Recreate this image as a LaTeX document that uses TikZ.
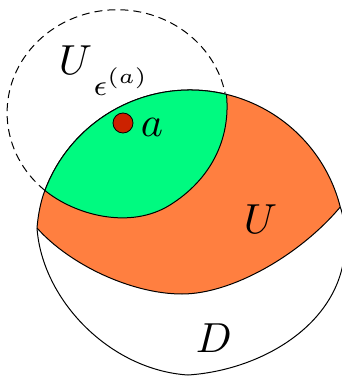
\documentclass[tikz,border=0pt]{standalone}
\usepackage{amsmath,amssymb}
\usepackage{tikz}
\usepackage{xcolor}
\usetikzlibrary{calc}
\definecolor{SetGreen}{HTML}{00FA80}
\definecolor{SetOrange}{HTML}{FF7F40}
\definecolor{PointRed}{HTML}{CC2200}
\tikzset{
    % Region outline
    edgeline/.style={
        draw=black,
        line width=1pt,
        line join=round
    },
    % Boundary of the ball
    ballline/.style={
        draw=black,
        line width=1pt,
        dash pattern=on 8pt off 5pt
    },
    % Orange set
    opensetfill/.style={
        fill=SetOrange
    },
    % Green set
    ballfill/.style={
        fill=SetGreen
    },
    % The point a
    pointdot/.style={
        circle,
        draw=black,
        line width=0.8pt,
        fill=PointRed,
        minimum size=20pt,
        inner sep=0pt
    },
    % Big letters
    setlabel/.style={
        scale=4.2,
        inner sep=0pt,
        anchor=base west
    }
}

\begin{document}
\begin{tikzpicture}[x=1pt, y=-1pt]
        \useasboundingbox (0,0) rectangle (342,377);
        \clip (0,0) rectangle (342,377);

        % Corner points
        \coordinate (C) at (190,245);
        \coordinate (L) at ($(C)+(200.6:155)$);
        \coordinate (P) at ($(C)+(283.6:155)$);
        \coordinate (R) at ($(C)+(345.8:155)$);
        \coordinate (Q) at (37,228);
        \coordinate (B) at (182,294);

        % Set U
        \path[opensetfill, edgeline] (Q) .. controls (38,215) and (41,200) .. (L)
            arc[start angle=200.6, end angle=345.8, radius=155]
            .. controls (300,255) and (232,294) .. (B)
            .. controls (132,294) and (70,265) .. (Q) -- cycle;

        % Part of the ball inside U
        \path[ballfill, edgeline] (L)
            arc[start angle=200.6, end angle=283.6, radius=155]
            .. controls (231,140) and (210,180) .. (170,205)
            .. controls (130,230) and (75,215) .. (L) -- cycle;

        % Disk D
        \draw[edgeline] (Q) .. controls (42,300) and (110,370) .. (188,375)
            .. controls (265,370) and (347,320) .. (345,240)
            .. controls (345,225) and (343,215) .. (R);

        % Ball round a
        \draw[ballline] (L) arc[start angle=131, end angle=349, x radius=110, y radius=103];

        % Point and labels
        \node[pointdot] (apt) at (123,123) {};
        \node[setlabel] (alabel) at (140,136) {$a$};
        \node[setlabel] (ballname) at (58,75) {$U_{\raisebox{-3.5pt}{$\scriptstyle\,\epsilon^{(a)}$}}$};
        \node[setlabel] (uname) at (243,233) {$U$};
        \node[setlabel] (dname) at (195,352) {$D$};
    \end{tikzpicture}
\end{document}
